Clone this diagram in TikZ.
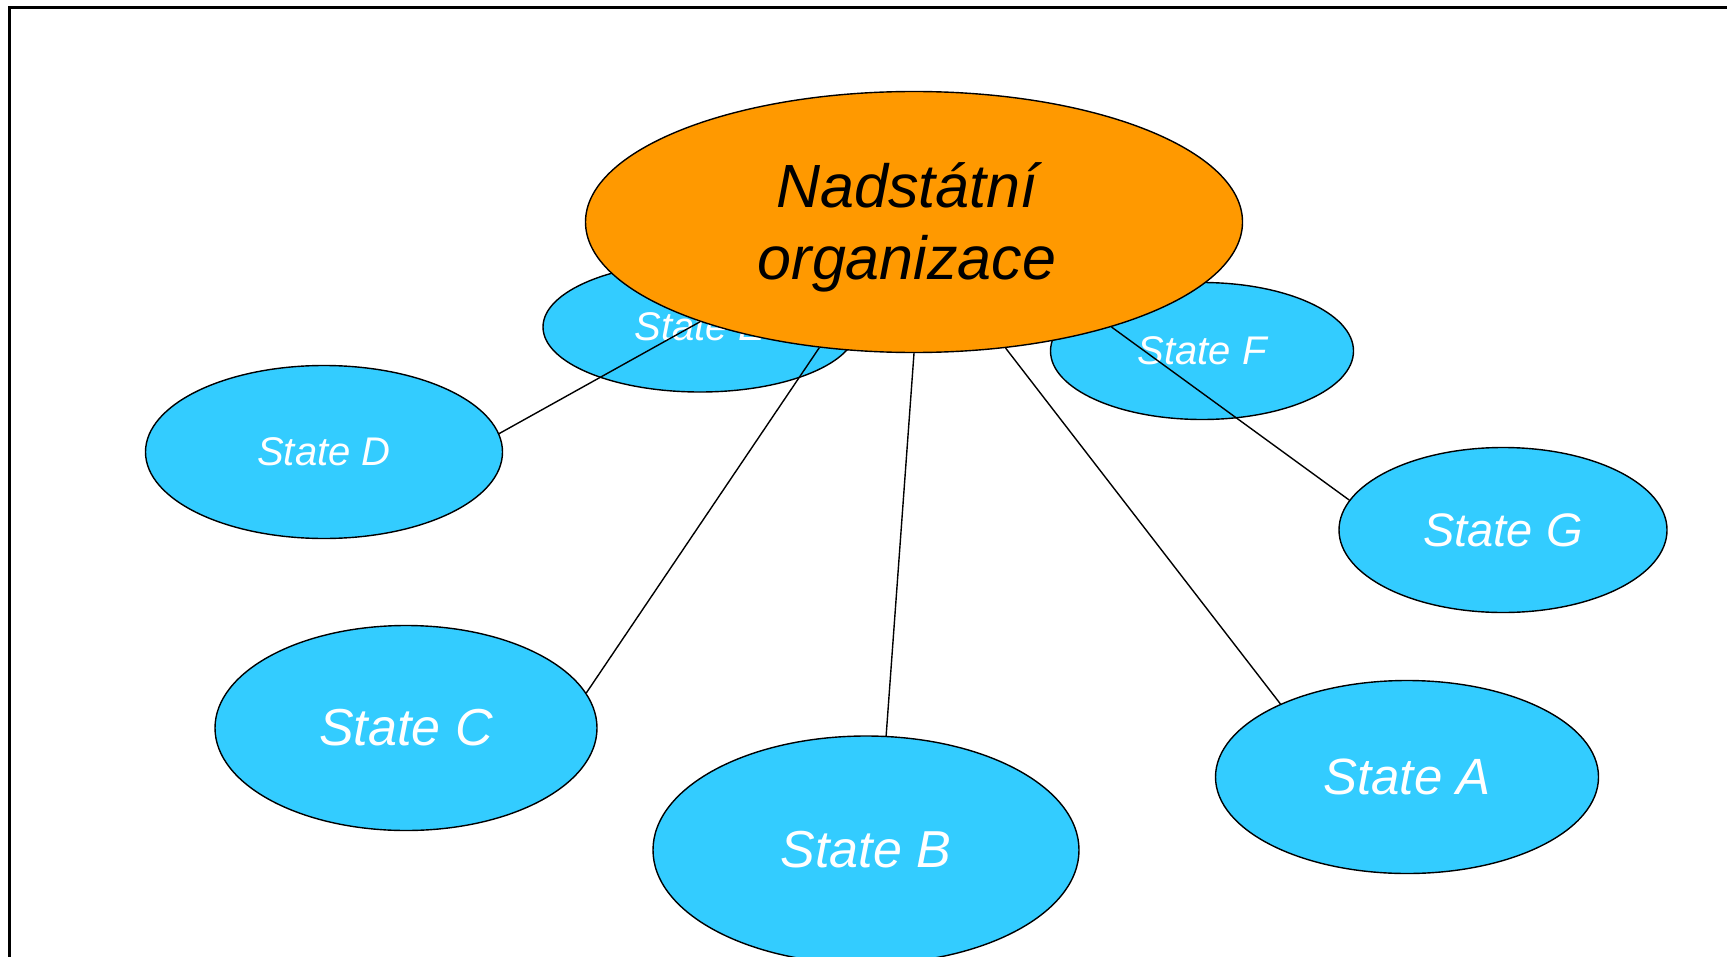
\documentclass[tikz,border=0pt]{standalone}
\usepackage{fontspec}
\setmainfont{Liberation Sans}
\usetikzlibrary{shapes.geometric}
\definecolor{statecyan}{HTML}{33CCFF}
\definecolor{orgorange}{HTML}{FF9900}
\tikzset{
  state/.style={ellipse, draw=black, line width=0.7pt, fill=statecyan,
    text=white, inner sep=0pt},
  link/.style={draw=black, line width=0.7pt}
}
\newcommand{\fs}[1]{\fontsize{#1}{1.2\dimexpr#1pt\relax}\selectfont\itshape}
\begin{document}
\begin{tikzpicture}[x=0.5pt,y=-0.5pt]
\useasboundingbox (0,0) rectangle (1727,957);
\draw[line width=1.3pt] (9.5,957) -- (9.5,7.8) -- (1727,7.8);

% states behind the organisation
\node[state, minimum width=157pt, minimum height=65pt, font=\fs{20}] (stE) at (700,327) {State E};
\node[state, minimum width=151.5pt, minimum height=68.5pt, font=\fs{20}] (stF) at (1202,351) {State F};

\node[ellipse, draw=black, line width=0.7pt, fill=orgorange, inner sep=0pt,
      minimum width=328.5pt, minimum height=130.5pt, align=center,
      font={\fontsize{30.5}{36}\selectfont\itshape}] (org) at (914,222)
      {\rule{0pt}{27.5pt}Nadstátní\hspace*{7pt}\\organizace\hspace*{7pt}};

\node[state, minimum width=178.5pt, minimum height=86.5pt, font=\fs{20}] (stD) at (324,452) {State D};
\node[state, minimum width=191pt, minimum height=102.5pt, font=\fs{26}] (stC) at (406,728) {State C};
\node[state, minimum width=213pt, minimum height=114pt, font=\fs{26}] (stB) at (866,850) {State B};
\node[state, minimum width=191.5pt, minimum height=96.5pt, font=\fs{25.5}] (stA) at (1407,777) {State A};
\node[state, minimum width=164pt, minimum height=82.5pt, font=\fs{23.5}] (stG) at (1503,530) {State G};

\draw[link] (org.205) -- (stD.6);
\draw[link] (org.233) -- (stC.11);
\draw[link] (org.270) -- (stB.80);
\draw[link] (org.306) -- (stA.150);
\draw[link] (org.332) -- (stG.169);
\end{tikzpicture}
\end{document}
